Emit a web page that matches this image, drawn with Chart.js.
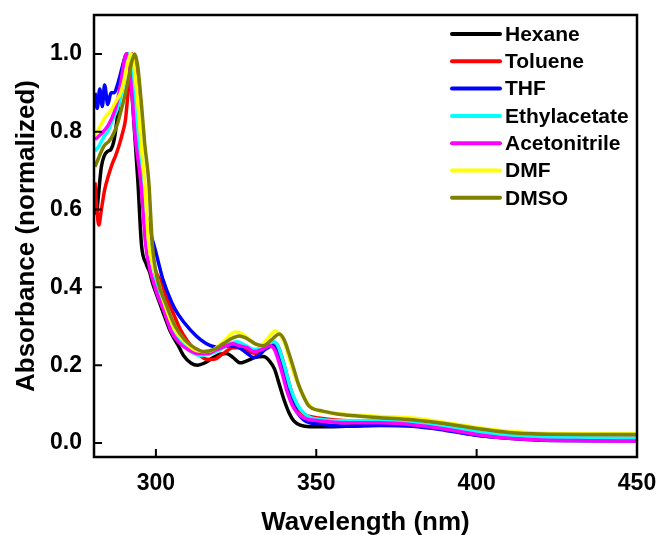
<!DOCTYPE html>
<html>
<head>
<meta charset="utf-8">
<script src="https://cdn.jsdelivr.net/npm/chart.js@4.4.1/dist/chart.umd.min.js"></script>
<style>
  html, body { margin: 0; padding: 0; background: #ffffff; }
  #wrap { width: 660px; height: 535px; }
</style>
</head>
<body>
<div id="wrap"><canvas id="c" width="660" height="535"></canvas></div>
<script>
// ---- Data ----
const wavelengthTicks = [300, 350, 400, 450];
const absorbanceTicks = [0.0, 0.2, 0.4, 0.6, 0.8, 1.0];
const solvents = ['Hexane', 'Toluene', 'THF', 'Ethylacetate', 'Acetonitrile', 'DMF', 'DMSO'];

const hexane = [[281,0.61],[281.5,0.59],[282,0.63],[283,0.71],[284,0.74],[285,0.75],[286,0.755],[287,0.78],[288,0.84],[289,0.92],[290,0.98],[290.8,1.0],[291.5,0.98],[292.5,0.9],[293.5,0.78],[294.4,0.67],[295.5,0.51],[297,0.46],[298,0.44],[299,0.41],[300.5,0.375],[302.5,0.33],[304.6,0.285],[307,0.25],[308.6,0.225],[311,0.205],[313,0.2],[315,0.205],[318,0.22],[320,0.228],[322,0.23],[324,0.22],[326.3,0.206],[328,0.21],[331,0.22],[333.5,0.222],[335.5,0.21],[337,0.19],[338.5,0.15],[340,0.11],[341.5,0.078],[343,0.057],[345,0.046],[348,0.042],[355,0.042],[365,0.045],[375,0.047],[382,0.045],[390,0.035],[400,0.02],[410,0.013],[420,0.009],[435,0.007],[450,0.006]];

const toluene = [[281,0.67],[281.6,0.6],[282.2,0.56],[283,0.6],[284,0.65],[285.3,0.69],[286.5,0.72],[287.5,0.74],[288.7,0.77],[289.7,0.8],[290.5,0.83],[291.2,0.89],[292,0.96],[292.6,1.0],[293.4,0.97],[294.3,0.87],[295.3,0.73],[296.5,0.6],[298,0.5],[300,0.44],[301.5,0.415],[303.5,0.37],[305.6,0.33],[307.7,0.29],[310,0.26],[313,0.23],[316,0.215],[318,0.215],[321,0.23],[324,0.245],[326,0.245],[329,0.235],[331,0.23],[334,0.245],[336.8,0.258],[338.3,0.245],[340,0.2],[342,0.14],[344,0.095],[346,0.075],[348,0.068],[350,0.065],[360,0.057],[370,0.057],[380,0.054],[390,0.044],[400,0.032],[410,0.024],[420,0.021],[435,0.021],[450,0.021]];

const thf = [[281,0.9],[281.7,0.86],[282.5,0.91],[283.3,0.865],[284,0.92],[285,0.87],[286,0.9],[287,0.9],[288,0.92],[289,0.95],[290,0.98],[291.2,1.0],[292.2,0.97],[293.5,0.87],[295,0.73],[296.5,0.61],[298,0.55],[300,0.49],[302.2,0.42],[305,0.36],[307,0.33],[310.8,0.29],[314,0.265],[317,0.25],[320,0.245],[323,0.25],[326,0.245],[328.5,0.23],[330.4,0.22],[332,0.225],[334,0.24],[336.6,0.25],[338,0.235],[340,0.18],[342,0.12],[344,0.08],[346,0.06],[348,0.052],[350,0.05],[355,0.045],[360,0.043],[370,0.045],[380,0.043],[390,0.033],[400,0.02],[410,0.012],[420,0.007],[435,0.006],[450,0.006]];

const ethylacetate = [[281,0.75],[282,0.76],[283,0.775],[284,0.79],[285,0.8],[286,0.82],[287,0.84],[288,0.86],[289,0.89],[290,0.93],[291.5,1.0],[292.5,0.96],[294,0.83],[295.5,0.67],[297,0.55],[299,0.46],[301,0.39],[303,0.33],[305,0.29],[308,0.26],[311,0.235],[314,0.225],[317,0.23],[320,0.24],[323,0.255],[325.5,0.26],[328,0.25],[331,0.24],[333,0.245],[335,0.255],[336.8,0.26],[338,0.25],[340,0.2],[342,0.14],[344,0.1],[346,0.078],[348,0.066],[350,0.062],[360,0.057],[370,0.057],[380,0.052],[390,0.042],[400,0.03],[410,0.02],[420,0.015],[435,0.013],[450,0.012]];

const acetonitrile = [[281,0.78],[283,0.795],[285,0.815],[287,0.85],[288.5,0.9],[289.5,0.95],[290.3,0.99],[290.8,1.0],[291.5,0.98],[292.5,0.9],[293.5,0.79],[295.3,0.67],[296.8,0.51],[298,0.45],[299,0.42],[300.5,0.38],[302.5,0.34],[304.6,0.29],[307,0.26],[310,0.24],[313,0.23],[316,0.23],[319,0.24],[322,0.25],[324,0.255],[326,0.25],[328.5,0.245],[330.5,0.235],[333,0.24],[335.5,0.25],[337,0.24],[339,0.19],[341,0.13],[343,0.09],[345,0.07],[347,0.062],[350,0.058],[360,0.052],[370,0.052],[380,0.047],[390,0.036],[400,0.022],[410,0.012],[420,0.008],[435,0.006],[450,0.005]];

const dmf = [[281,0.79],[282,0.805],[283,0.82],[284,0.835],[285,0.845],[286,0.855],[287,0.87],[288,0.885],[289,0.9],[290,0.93],[291,0.97],[292.3,1.0],[293.3,0.96],[294.5,0.86],[295.5,0.76],[296.5,0.67],[297.8,0.51],[299,0.46],[300.5,0.42],[303,0.35],[306,0.29],[309,0.26],[312,0.24],[315.5,0.235],[318,0.24],[321,0.26],[324.8,0.285],[327,0.28],[330,0.26],[332.6,0.25],[335,0.27],[337.2,0.288],[338.5,0.28],[340,0.26],[341.5,0.22],[343,0.18],[344.4,0.15],[346,0.12],[348,0.095],[350,0.085],[355,0.077],[360,0.073],[370,0.068],[380,0.064],[390,0.053],[400,0.04],[410,0.03],[420,0.025],[435,0.024],[450,0.024]];

const dmso = [[281,0.71],[282,0.73],[283,0.75],[284,0.765],[285.3,0.775],[286.5,0.79],[288,0.82],[289,0.85],[290.5,0.9],[291.5,0.94],[292.5,0.98],[293.4,1.0],[294.3,0.97],[295.5,0.87],[296.5,0.77],[297.8,0.67],[298.9,0.51],[300.5,0.42],[303,0.36],[306,0.3],[309,0.265],[312,0.245],[315,0.235],[318,0.24],[321,0.255],[324,0.27],[326,0.275],[328,0.27],[331,0.255],[333.5,0.25],[336,0.265],[338.5,0.28],[340,0.265],[341.5,0.23],[343,0.19],[344.5,0.15],[346,0.12],[347.5,0.097],[349,0.088],[352,0.082],[357,0.074],[362,0.07],[370,0.065],[380,0.06],[390,0.05],[400,0.037],[410,0.027],[420,0.023],[435,0.022],[450,0.022]];

const seriesValues = [hexane, toluene, thf, ethylacetate, acetonitrile, dmf, dmso];

// ---- Styles ----
const lineColors = ['#000000', '#ff0000', '#0000ff', '#00ffff', '#ff00ff', '#ffff00', '#808000'];
const FONT = '"Liberation Sans", Arial, Helvetica, sans-serif';

const datasets = solvents.map((name, i) => ({
  label: name,
  data: seriesValues[i],
  borderColor: lineColors[i],
  backgroundColor: lineColors[i],
  borderWidth: 3.5,
  pointRadius: 0,
  pointHoverRadius: 0,
  fill: false,
  cubicInterpolationMode: 'monotone',
  order: solvents.length - i
}));

const bgPlugin = {
  id: 'bg',
  beforeDraw(chart) {
    const ctx = chart.ctx;
    ctx.save();
    ctx.fillStyle = '#ffffff';
    ctx.fillRect(0, 0, chart.width, chart.height);
    ctx.restore();
  }
};

const framePlugin = {
  id: 'frame',
  afterDatasetsDraw(chart) {
    const {ctx, chartArea: a, scales} = chart;
    ctx.save();
    ctx.strokeStyle = '#000';
    ctx.lineWidth = 2.5;
    ctx.strokeRect(a.left, a.top, a.right - a.left, a.bottom - a.top);
    ctx.lineWidth = 2;
    const tl = 8;
    ctx.beginPath();
    wavelengthTicks.forEach(v => {
      const x = scales.x.getPixelForValue(v);
      ctx.moveTo(x, a.bottom);
      ctx.lineTo(x, a.bottom - tl);
    });
    absorbanceTicks.forEach(v => {
      const y = scales.y.getPixelForValue(v);
      ctx.moveTo(a.left, y);
      ctx.lineTo(a.left + tl, y);
    });
    ctx.stroke();
    ctx.restore();
  }
};

const legendPlugin = {
  id: 'customLegend',
  afterDraw(chart) {
    const ctx = chart.ctx;
    ctx.save();
    const x0 = 452, x1 = 500, tx = 505, y0 = 34, step = 27.3;
    ctx.font = 'bold 21px ' + FONT;
    ctx.textBaseline = 'middle';
    ctx.textAlign = 'left';
    chart.data.datasets.forEach((ds, i) => {
      const y = y0 + i * step;
      ctx.strokeStyle = ds.borderColor;
      ctx.lineWidth = 4;
      ctx.lineCap = 'round';
      ctx.beginPath();
      ctx.moveTo(x0, y);
      ctx.lineTo(x1, y);
      ctx.stroke();
      ctx.fillStyle = '#000';
      ctx.fillText(ds.label, tx, y + 1);
    });
    ctx.restore();
  }
};

new Chart(document.getElementById('c'), {
  type: 'line',
  data: { datasets },
  options: {
    responsive: false,
    animation: false,
    devicePixelRatio: 1,
    layout: { padding: { top: 15, right: 23, bottom: 0, left: 0 } },
    plugins: { legend: { display: false }, tooltip: { enabled: false } },
    scales: {
      x: {
        type: 'linear',
        min: 280.7,
        max: 450,
        afterBuildTicks(s) { s.ticks = wavelengthTicks.map(v => ({ value: v })); },
        afterFit(s) { s.height = 78; s.paddingLeft = 0; s.paddingRight = 0; s.paddingTop = 0; s.paddingBottom = 0; },
        grid: { display: false, drawTicks: false },
        border: { display: false },
        ticks: { color: '#000', padding: 13, maxRotation: 0, font: { family: FONT, size: 23, weight: 'bold' } },
        title: { display: true, text: 'Wavelength (nm)', color: '#000', padding: { top: 0, bottom: -1 }, font: { family: FONT, size: 26, weight: 'bold', lineHeight: 1 } }
      },
      y: {
        type: 'linear',
        min: -0.036,
        max: 1.1,
        afterBuildTicks(s) { s.ticks = absorbanceTicks.map(v => ({ value: v })); },
        afterFit(s) { s.width = 94; s.paddingLeft = 0; s.paddingRight = 0; s.paddingTop = 0; s.paddingBottom = 0; },
        grid: { display: false, drawTicks: false },
        border: { display: false },
        ticks: { color: '#000', padding: 12, callback: v => Number(v).toFixed(1), font: { family: FONT, size: 23, weight: 'bold' } },
        title: { display: true, text: 'Absorbance (normalized)', color: '#000', padding: { top: 14, bottom: 0 }, font: { family: FONT, size: 26, weight: 'bold', lineHeight: 1 } }
      }
    }
  },
  plugins: [bgPlugin, framePlugin, legendPlugin]
});
</script>
</body>
</html>
